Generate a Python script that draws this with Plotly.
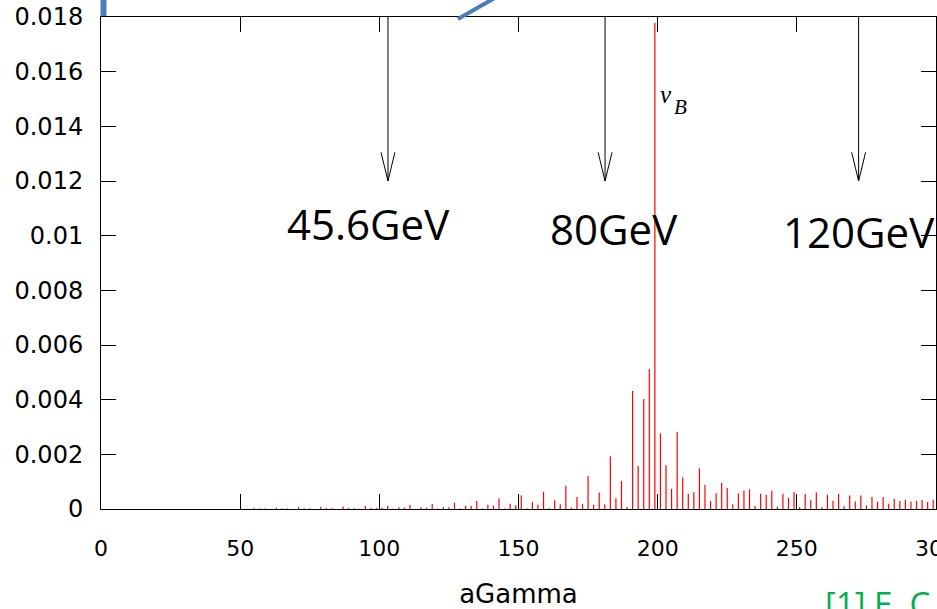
import plotly.graph_objects as go

# Spin-tune spectrum: odd integer aGamma values and spectral heights (x1e-3)
a_gamma = list(range(55, 300, 2))
height_e3 = [
    0.03, 0.02, 0.02, 0.00, 0.05, 0.02, 0.02, 0.00, 0.08, 0.03,   # 55-73
    0.03, 0.00, 0.08, 0.03, 0.03, 0.00, 0.09, 0.04, 0.03, 0.01,   # 75-93
    0.11, 0.04, 0.04, 0.05, 0.12, 0.01, 0.06, 0.05, 0.15, 0.01,   # 95-113
    0.06, 0.05, 0.18, 0.02, 0.07, 0.06, 0.23, 0.02, 0.12, 0.11,   # 115-133
    0.29, 0.02, 0.16, 0.12, 0.38, 0.02, 0.19, 0.14, 0.49, 0.02,   # 135-153
    0.25, 0.16, 0.63, 0.03, 0.32, 0.17, 0.85, 0.05, 0.44, 0.18,   # 155-173
    1.21, 0.16, 0.60, 0.17, 1.93, 0.39, 1.02, 0.07, 4.32, 1.57,   # 175-193
    4.02, 5.11, 17.78, 2.77, 1.60, 0.74, 2.83, 1.15, 0.56, 0.61,  # 195-213
    1.49, 0.88, 0.29, 0.58, 0.95, 0.77, 0.17, 0.57, 0.68, 0.72,   # 215-233
    0.11, 0.56, 0.51, 0.67, 0.08, 0.56, 0.41, 0.62, 0.07, 0.55,   # 235-253
    0.34, 0.60, 0.06, 0.52, 0.30, 0.55, 0.10, 0.49, 0.27, 0.49,   # 255-273
    0.13, 0.44, 0.27, 0.44, 0.19, 0.37, 0.29, 0.34, 0.27, 0.30,   # 275-293
    0.33, 0.26, 0.34,                                             # 295-299
]
amplitude = [h * 1e-3 for h in height_e3]

# Beam energies marked with arrows (aGamma position, label)
energy_pos = [103.1, 181.1, 272.2]
energy_text = ["45.6GeV", "80GeV", "120GeV"]
arrow_tip = 0.012

y_tick_vals = [0, 0.002, 0.004, 0.006, 0.008, 0.01, 0.012, 0.014, 0.016, 0.018]
y_tick_text = ["0", "0.002", "0.004", "0.006", "0.008", "0.01", "0.012", "0.014", "0.016", "0.018"]
x_tick_vals = [0, 50, 100, 150, 200, 250, 300]

X_MAX, Y_MAX = 300, 0.018

# Build the impulse (stick) lines
xs, ys = [], []
for x, a in zip(a_gamma, amplitude):
    xs += [x, x, None]
    ys += [0, a, None]

fig = go.Figure()
fig.add_trace(go.Scatter(
    x=xs, y=ys, mode="lines",
    line=dict(color="#ff0000", width=1.2),
    hoverinfo="skip", showlegend=False, cliponaxis=True,
))

shapes = []
annotations = []
label_offsets = [(-7.0, -0.00157, "center"), (3.2, -0.00172, "center"), (-27.8, -0.00183, "left")]
for pos, text, (dx, dy, anchor) in zip(energy_pos, energy_text, label_offsets):
    # shaft
    shapes.append(dict(type="line", xref="x", yref="y", x0=pos, x1=pos, y0=Y_MAX, y1=arrow_tip,
                       line=dict(color="black", width=1)))
    # open arrow head
    head = 0.00105
    shapes.append(dict(type="path", xref="x", yref="y",
                       path=f"M {pos - 2.5},{arrow_tip + head} L {pos},{arrow_tip} L {pos + 2.5},{arrow_tip + head}",
                       line=dict(color="black", width=1)))
    annotations.append(dict(x=pos + dx, y=arrow_tip + dy, xref="x", yref="y", text=text,
                            showarrow=False, xanchor=anchor, yanchor="middle",
                            font=dict(family="Open Sans", size=42, color="black")))

# Resonance label on the tallest line
peak_x = a_gamma[amplitude.index(max(amplitude))]
annotations.append(dict(x=peak_x + 1.0, y=0.01515, xref="x", yref="y", text="<i>ν</i>",
                        showarrow=False, xanchor="left", yanchor="middle",
                        font=dict(family="Liberation Serif", size=25, color="black")))
annotations.append(dict(x=peak_x + 6.3, y=0.01472, xref="x", yref="y", text="<i>B</i>",
                        showarrow=False, xanchor="left", yanchor="middle",
                        font=dict(family="Liberation Serif", size=21, color="black")))

# Reference note along the lower edge
annotations.append(dict(x=0.865, y=-0.193, xref="paper", yref="paper", text="[1] E. C",
                        showarrow=False, xanchor="left", yanchor="middle",
                        font=dict(family="Open Sans", size=33, color="#00b050")))

# Slide connector strokes peeking in above the frame
shapes.append(dict(type="line", xref="paper", yref="paper", x0=0.003, x1=0.003, y0=1.002, y1=1.04,
                   line=dict(color="#4a7ebb", width=6)))
shapes.append(dict(type="line", xref="paper", yref="paper", x0=0.4275, x1=0.473, y0=0.996, y1=1.04,
                   line=dict(color="#4a7ebb", width=4)))

axis_common = dict(showline=True, linecolor="black", linewidth=1, mirror="allticks",
                   ticks="inside", ticklen=15, tickcolor="black", tickwidth=1,
                   showgrid=False, zeroline=False, automargin=False)

fig.update_layout(
    width=937, height=609,
    margin=dict(l=101, r=1, t=17, b=100, autoexpand=False),
    plot_bgcolor="white", paper_bgcolor="white",
    xaxis=dict(range=[0, X_MAX], tickvals=x_tick_vals, ticktext=[str(v) for v in x_tick_vals],
               tickfont=dict(family="DejaVu Sans", size=22, color="black"),
               ticklabelstandoff=20, ticklabeloverflow="allow",
               title=dict(text="aGamma", font=dict(family="DejaVu Sans", size=26, color="black"),
                          standoff=30),
               **axis_common),
    yaxis=dict(range=[0, Y_MAX], tickvals=y_tick_vals, ticktext=y_tick_text,
               tickfont=dict(family="DejaVu Sans", size=24, color="black"),
               ticklabelstandoff=12,
               **axis_common),
    shapes=shapes,
    annotations=annotations,
)

fig.write_html("out.html")
